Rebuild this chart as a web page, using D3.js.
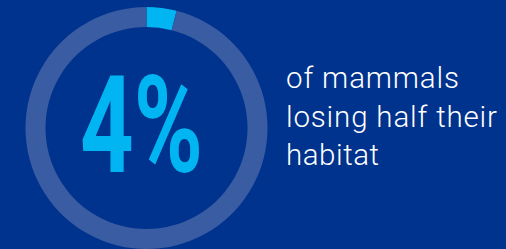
<!DOCTYPE html>
<html><head><meta charset="utf-8">
<script src="https://cdn.jsdelivr.net/npm/d3@7"></script>
<style>html,body{margin:0;padding:0;background:#00338d;overflow:hidden}</style>
</head><body>
<svg id="c" width="506" height="249"></svg>
<script>
const categories = ["losing half their habitat", "other"];
const values = [4, 96];
const labelLines = ["of mammals", "losing half their", "habitat"];
const bigLabel = "4%";

const svg = d3.select("#c");
svg.append("rect").attr("width",506).attr("height",249).attr("fill","#00338d");
const g = svg.append("g").attr("transform","translate(146.5,128)");
const pie = d3.pie().sort(null).value(d=>d)(values);
const arc = d3.arc().innerRadius(101).outerRadius(121);
const colors = ["#00b5f1", "#3a5ca2"];
g.selectAll("path").data(pie).join("path").attr("d", arc).attr("fill",(d,i)=>colors[i]);

const big = g.append("text").text(bigLabel)
  .attr("font-family","Roboto, 'DejaVu Sans'").attr("font-weight",700)
  .attr("font-size",136).attr("fill","#00b5f1").attr("text-anchor","middle");
const bb = big.node().getBBox();
const targetW = 123;
const sx = targetW / bb.width;
big.attr("transform",`translate(-5,44) scale(${sx},1)`);

const t = svg.append("text").attr("font-family","Roboto").attr("font-weight",300)
  .attr("font-size",29.5).attr("fill","#ffffff");
labelLines.forEach((l,i)=>{
  const ts = t.append("tspan").attr("x",286).attr("y",88+i*38.5).text(l);
});
// stretch lines to match reference widths
const widths = [173, 211, 93];
t.selectAll("tspan").each(function(d,i){
  const w = this.getComputedTextLength();
  const extra = (widths[i]-w)/Math.max(1,labelLines[i].length-1);
  d3.select(this).attr("letter-spacing", extra);
});
</script>
</body></html>
